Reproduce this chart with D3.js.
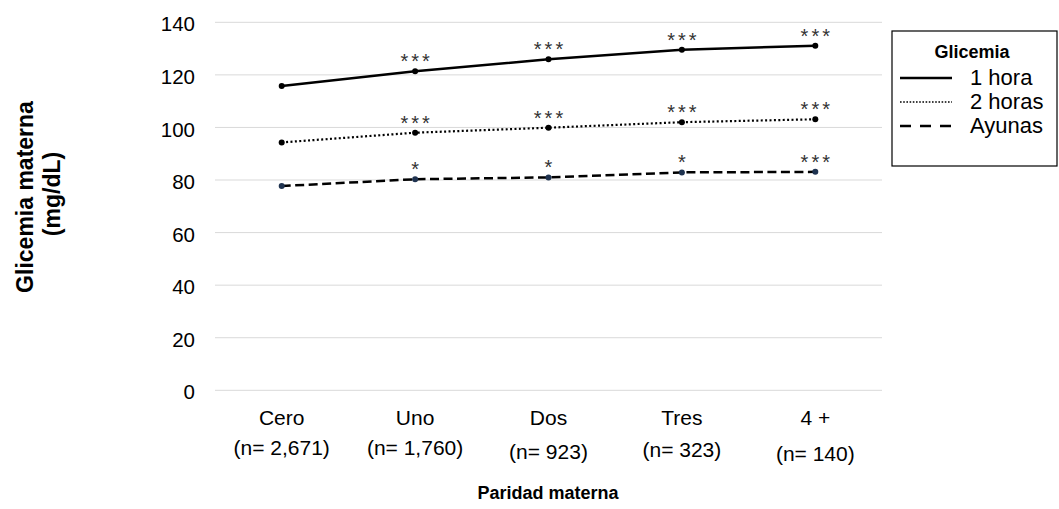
<!DOCTYPE html>
<html>
<head>
<meta charset="utf-8">
<script src="https://cdn.jsdelivr.net/npm/d3@7"></script>
<style>
  body { margin: 0; background: #fff; }
  text { font-family: "Liberation Sans", Arial, sans-serif; }
</style>
</head>
<body>
<svg id="chart" width="1059" height="509"></svg>
<script>
// categories and sample sizes
const categories = ["Cero", "Uno", "Dos", "Tres", "4 +"];
const sampleSizes = ["(n= 2,671)", "(n= 1,760)", "(n= 923)", "(n= 323)", "(n= 140)"];

// series values (mg/dL)
const unaHora = [115.8, 121.4, 125.9, 129.6, 131.1];
const dosHoras = [94.3, 98.0, 99.9, 102.0, 103.1];
const ayunas = [77.7, 80.3, 81.0, 82.9, 83.1];

// significance marks
const sigUnaHora = ["", "***", "***", "***", "***"];
const sigDosHoras = ["", "***", "***", "***", "***"];
const sigAyunas = ["", "*", "*", "*", "***"];

const yTicks = [0, 20, 40, 60, 80, 100, 120, 140];

const series = [
    { name: "1 hora", values: unaHora, sig: sigUnaHora, dash: null, width: 2.5, dot: "#000" },
    { name: "2 horas", values: dosHoras, sig: sigDosHoras, dash: "2,2.4", width: 2.2, dot: "#000" },
    { name: "Ayunas", values: ayunas, sig: sigAyunas, dash: "9,4.5", width: 2.5, dot: "#1f3350" }
];

const svg = d3.select("#chart");
const plotLeft = 215, plotRight = 882, plotTop = 22.3, plotBottom = 390.3;

const x = d3.scaleBand().domain(categories).range([plotLeft, plotRight]);
const y = d3.scaleLinear().domain([0, 140]).range([plotBottom, plotTop]);

// grid
svg.append("g")
    .selectAll("line")
    .data(yTicks)
    .join("line")
    .attr("x1", plotLeft)
    .attr("x2", plotRight)
    .attr("y1", d => y(d))
    .attr("y2", d => y(d))
    .attr("stroke", "#d9d9d9")
    .attr("stroke-width", 1);

// y axis tick labels
const yAxis = svg.append("g")
    .attr("transform", `translate(${plotLeft}, 0)`)
    .call(d3.axisLeft(y).tickValues(yTicks).tickSize(0).tickPadding(20));
yAxis.select(".domain").remove();
yAxis.selectAll("text")
    .attr("font-family", "Liberation Sans, Arial, sans-serif")
    .attr("font-size", "20.5px")
    .attr("dy", "0.42em")
    .attr("fill", "#000");

// x axis labels
const xAxis = svg.append("g")
    .attr("transform", `translate(0, ${plotBottom})`)
    .call(d3.axisBottom(x).tickSize(0).tickPadding(20));
xAxis.select(".domain").remove();
xAxis.selectAll("text")
    .attr("font-family", "Liberation Sans, Arial, sans-serif")
    .attr("font-size", "21px")
    .attr("fill", "#000");

// sample sizes under the categories
const nOffset = [0, 0, 4, 2, 6];
svg.append("g")
    .selectAll("text")
    .data(categories)
    .join("text")
    .attr("x", d => x(d) + x.bandwidth() / 2)
    .attr("y", (d, i) => 455 + nOffset[i])
    .attr("text-anchor", "middle")
    .attr("font-size", "21px")
    .text((d, i) => sampleSizes[i]);

// axis titles
svg.append("text")
    .attr("x", 548)
    .attr("y", 499)
    .attr("text-anchor", "middle")
    .attr("font-size", "18px")
    .attr("font-weight", "bold")
    .text("Paridad materna");

svg.append("text")
    .attr("transform", "translate(33, 197) rotate(-90)")
    .attr("text-anchor", "middle")
    .attr("font-size", "23px")
    .attr("font-weight", "bold")
    .text("Glicemia materna");
svg.append("text")
    .attr("transform", "translate(60, 194) rotate(-90)")
    .attr("text-anchor", "middle")
    .attr("font-size", "23px")
    .attr("font-weight", "bold")
    .text("(mg/dL)");

// lines
const line = d3.line()
    .x((d, i) => x(categories[i]) + x.bandwidth() / 2)
    .y(d => y(d));

series.forEach(s => {
    svg.append("path")
        .datum(s.values)
        .attr("d", line)
        .attr("fill", "none")
        .attr("stroke", "#000")
        .attr("stroke-width", s.width)
        .attr("stroke-dasharray", s.dash);

    svg.append("g")
        .selectAll("circle")
        .data(s.values)
        .join("circle")
        .attr("cx", (d, i) => x(categories[i]) + x.bandwidth() / 2)
        .attr("cy", d => y(d))
        .attr("r", 3)
        .attr("fill", s.dot);

    svg.append("g")
        .selectAll("text")
        .data(s.values)
        .join("text")
        .attr("x", (d, i) => x(categories[i]) + x.bandwidth() / 2 + 1.5)
        .attr("y", d => y(d) - 3)
        .attr("text-anchor", "middle")
        .attr("font-size", "20px")
        .attr("letter-spacing", "3px")
        .attr("fill", "#333")
        .text((d, i) => s.sig[i]);
});

// legend
const legend = svg.append("g");
legend.append("rect")
    .attr("x", 892)
    .attr("y", 31)
    .attr("width", 165)
    .attr("height", 135)
    .attr("fill", "#fff")
    .attr("stroke", "#000")
    .attr("stroke-width", 1.2);
legend.append("text")
    .attr("x", 972)
    .attr("y", 58)
    .attr("text-anchor", "middle")
    .attr("font-family", "Open Sans, sans-serif")
    .attr("font-size", "18px")
    .attr("font-weight", "bold")
    .text("Glicemia");

const legendDash = [null, "1.6,1.6", "11,9"];
series.forEach((s, i) => {
    const ly = 78 + i * 24;
    legend.append("line")
        .attr("x1", 900)
        .attr("x2", 952)
        .attr("y1", ly)
        .attr("y2", ly)
        .attr("stroke", "#000")
        .attr("stroke-width", i === 1 ? 1.6 : 2.5)
        .attr("stroke-dasharray", legendDash[i]);
    legend.append("text")
        .attr("x", 970)
        .attr("y", ly + 7)
        .attr("font-size", "22px")
        .text(s.name);
});
</script>
</body>
</html>
